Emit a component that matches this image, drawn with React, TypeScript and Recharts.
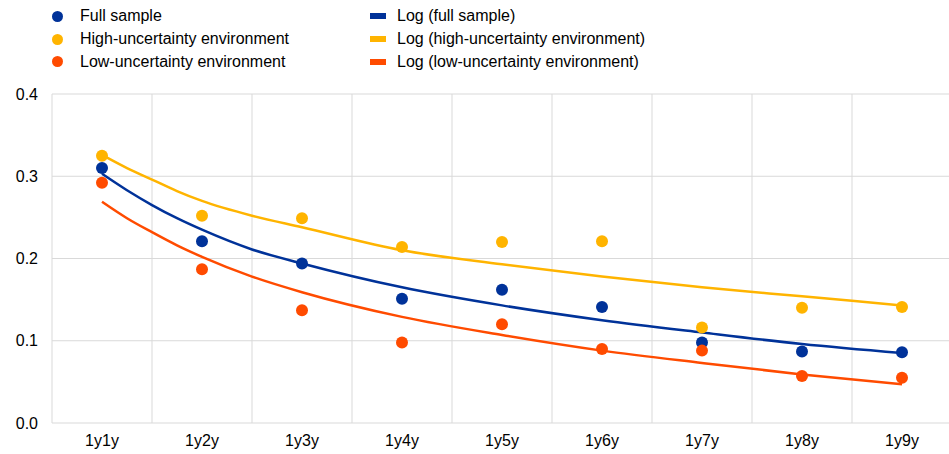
import * as React from 'react';
import {
  ComposedChart, Line, Scatter, XAxis, YAxis, CartesianGrid, Legend
} from 'recharts';

// forward tenors
const tenors = ['1y1y', '1y2y', '1y3y', '1y4y', '1y5y', '1y6y', '1y7y', '1y8y', '1y9y'];

// point estimates
const fullSample = [0.310, 0.221, 0.194, 0.151, 0.162, 0.141, 0.098, 0.087, 0.086];
const highUncertainty = [0.325, 0.252, 0.249, 0.214, 0.220, 0.221, 0.116, 0.140, 0.141];
const lowUncertainty = [0.292, 0.187, 0.137, 0.098, 0.120, 0.090, 0.088, 0.057, 0.055];

// log trend lines (extra readings where they bend most)
const trendX = [1, 1.25, 1.5, 1.75, 2, 2.5, 3, 4, 5, 6, 7, 8, 9];
const logFull = [0.303, 0.283, 0.265, 0.249, 0.235, 0.211, 0.194, 0.165, 0.143, 0.125, 0.110, 0.096, 0.085];
const logHigh = [0.326, 0.310, 0.296, 0.282, 0.270, 0.252, 0.238, 0.210, 0.193, 0.178, 0.165, 0.154, 0.143];
const logLow = [0.269, 0.249, 0.232, 0.216, 0.202, 0.178, 0.159, 0.129, 0.107, 0.088, 0.073, 0.059, 0.047];

const yTicks = [0, 0.1, 0.2, 0.3, 0.4];
const xTicks = [1, 2, 3, 4, 5, 6, 7, 8, 9];
const xDomain: [number, number] = [0.5, 9.5];
// vertical grid sits between the tenors
const gridTicks = [0.5, 1.5, 2.5, 3.5, 4.5, 5.5, 6.5, 7.5, 8.5, 9.5];

const BLUE = '#003299';
const YELLOW = '#FFB400';
const ORANGE = '#FF4B00';
const FONT = '"Liberation Sans", Arial, sans-serif';

const pointData = tenors.map((t, i) => ({
  x: i + 1,
  tenor: t,
  full: fullSample[i],
  high: highUncertainty[i],
  low: lowUncertainty[i],
}));

const trendData = trendX.map((x, i) => ({
  x,
  logFull: logFull[i],
  logHigh: logHigh[i],
  logLow: logLow[i],
}));

const dotShape = (color: string) => (props: any) => (
  <circle cx={props.cx} cy={props.cy} r={6} fill={color} />
);

const legendRows = [
  { dot: BLUE, dotLabel: 'Full sample', lineLabel: 'Log (full sample)' },
  { dot: YELLOW, dotLabel: 'High-uncertainty environment', lineLabel: 'Log (high-uncertainty environment)' },
  { dot: ORANGE, dotLabel: 'Low-uncertainty environment', lineLabel: 'Log (low-uncertainty environment)' },
];
const rowCenters = [16, 39, 61.5];

const renderLegend = () => (
  <div style={{ position: 'relative', width: 949, height: 75, fontFamily: FONT, fontSize: 16, color: '#000' }}>
    {legendRows.map((r, i) => (
      <React.Fragment key={r.dotLabel}>
        <div style={{ position: 'absolute', left: 52, top: rowCenters[i] - 5.5, width: 11, height: 11, borderRadius: '50%', background: r.dot }} />
        <div style={{ position: 'absolute', left: 80, top: rowCenters[i] - 11, height: 22, lineHeight: '22px', whiteSpace: 'nowrap' }}>{r.dotLabel}</div>
        <div style={{ position: 'absolute', left: 370, top: rowCenters[i] - 3, width: 16, height: 6, background: r.dot }} />
        <div style={{ position: 'absolute', left: 397, top: rowCenters[i] - 11, height: 22, lineHeight: '22px', whiteSpace: 'nowrap' }}>{r.lineLabel}</div>
      </React.Fragment>
    ))}
  </div>
);

const verticalGrid = (args: any) => {
  const off = args?.offset ?? { left: 52, width: 900 };
  return gridTicks.map((t) => off.left + ((t - xDomain[0]) / (xDomain[1] - xDomain[0])) * off.width);
};

export default function App() {
  return (
    <div style={{ position: 'absolute', top: 0, left: 0, width: 949, height: 454, overflow: 'hidden', background: '#fff', fontFamily: FONT }}>
      <ComposedChart width={952} height={454} data={pointData} margin={{ top: 94, right: 0, bottom: 0, left: 0 }}>
        <CartesianGrid stroke="#d9d9d9" strokeWidth={1} verticalCoordinatesGenerator={verticalGrid} />
        <XAxis
          dataKey="x"
          type="number"
          domain={xDomain}
          ticks={xTicks}
          tickFormatter={(v) => tenors[v - 1]}
          axisLine={false}
          tickLine={false}
          tickMargin={6}
          height={31}
          tick={{ fontSize: 16, fill: '#000', fontFamily: FONT }}
          allowDataOverflow
        />
        <YAxis
          domain={[0, 0.4]}
          ticks={yTicks}
          tickFormatter={(v) => v.toFixed(1)}
          axisLine={false}
          tickLine={false}
          tickMargin={8}
          width={52}
          tick={{ fontSize: 16, fill: '#000', fontFamily: FONT }}
        />
        <Legend content={renderLegend} layout="horizontal" verticalAlign="middle" align="center" wrapperStyle={{ top: 0, left: 0, width: 949, height: 75 }} />
        <Line data={trendData} type="monotone" dataKey="logHigh" stroke={YELLOW} strokeWidth={2.5} dot={false} isAnimationActive={false} />
        <Line data={trendData} type="monotone" dataKey="logFull" stroke={BLUE} strokeWidth={2.5} dot={false} isAnimationActive={false} />
        <Line data={trendData} type="monotone" dataKey="logLow" stroke={ORANGE} strokeWidth={2.5} dot={false} isAnimationActive={false} />
        <Scatter dataKey="high" fill={YELLOW} shape={dotShape(YELLOW)} isAnimationActive={false} />
        <Scatter dataKey="full" fill={BLUE} shape={dotShape(BLUE)} isAnimationActive={false} />
        <Scatter dataKey="low" fill={ORANGE} shape={dotShape(ORANGE)} isAnimationActive={false} />
      </ComposedChart>
    </div>
  );
}
